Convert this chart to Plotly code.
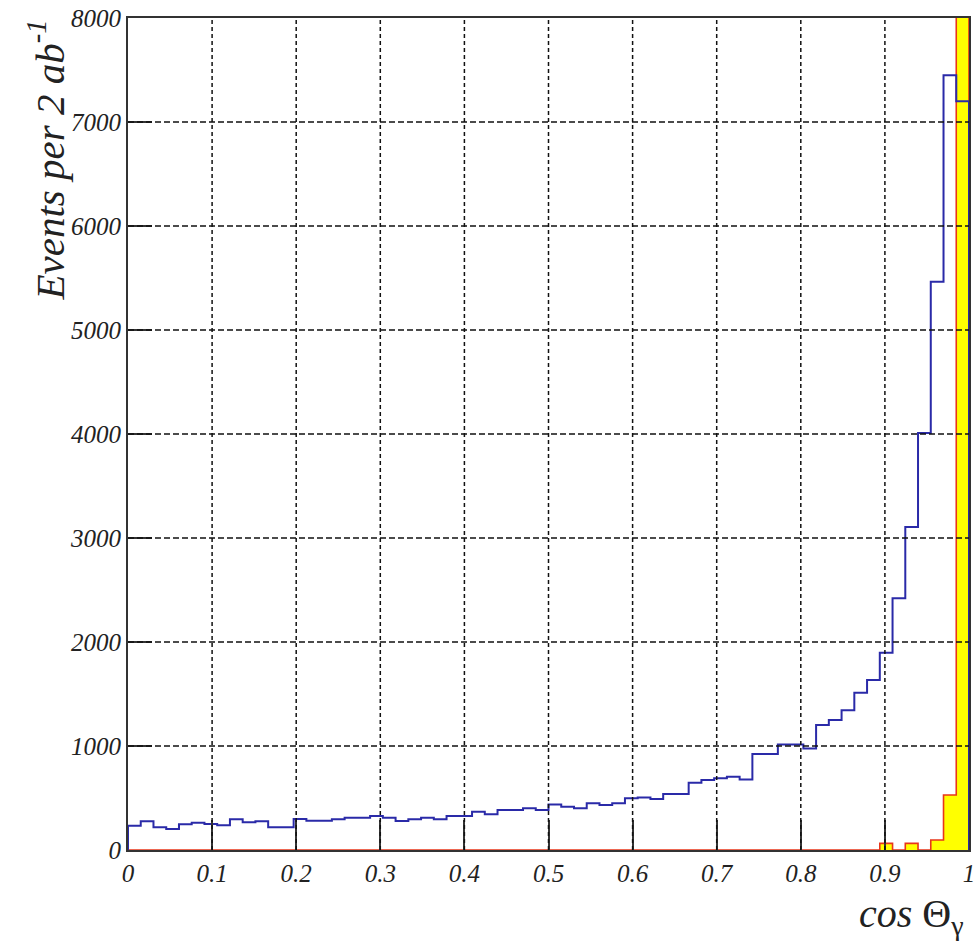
import numpy as np
import plotly.graph_objects as go

# Histogram binning: 66 equal bins over cos(theta) in [0, 1]
n_bins = 66
x_min, x_max = 0.0, 1.0

# Background (blue outline histogram), events per bin
background = [
    234, 276, 218, 202, 247, 263, 250, 237, 295, 266,
    276, 218, 218, 298, 282, 282, 296, 311, 311, 327,
    311, 279, 295, 311, 295, 327, 327, 368, 343, 385,
    385, 401, 385, 437, 417, 401, 449, 433, 449, 497,
    506, 490, 538, 538, 647, 673, 689, 705, 679, 923,
    923, 1015, 1015, 975, 1202, 1250, 1343, 1513, 1635, 1897,
    2420, 3105, 4010, 5465, 7450, 7200,
]

# Signal (yellow filled histogram), events per bin; last bin runs off scale
signal = [0] * 59 + [64, 0, 64, 0, 96, 529, 24000]

x_tick_vals = [0, 0.1, 0.2, 0.3, 0.4, 0.5, 0.6, 0.7, 0.8, 0.9, 1.0]
x_tick_text = ["0", "0.1", "0.2", "0.3", "0.4", "0.5", "0.6", "0.7", "0.8", "0.9", "1"]
y_tick_vals = [0, 1000, 2000, 3000, 4000, 5000, 6000, 7000, 8000]
y_tick_text = ["0", "1000", "2000", "3000", "4000", "5000", "6000", "7000", "8000"]

edges = np.linspace(x_min, x_max, n_bins + 1)


def step_path(values):
    """Outline of a histogram: up from the baseline, across each bin, back down."""
    xs, ys = [edges[0]], [0]
    for i, v in enumerate(values):
        xs += [edges[i], edges[i + 1]]
        ys += [v, v]
    xs.append(edges[-1])
    ys.append(0)
    return xs, ys


fig = go.Figure()

sx, sy = step_path(signal)
fig.add_trace(go.Scatter(
    x=sx, y=sy, mode="lines", fill="tozeroy",
    fillcolor="#ffff00", line=dict(color="#e8361a", width=1.6),
    hoverinfo="skip", showlegend=False,
))

bx, by = step_path(background)
fig.add_trace(go.Scatter(
    x=bx, y=by, mode="lines",
    line=dict(color="#2a2aa8", width=2),
    hoverinfo="skip", showlegend=False,
))

# Dashed grid drawn on top of the histograms
shapes = []
for xv in x_tick_vals[1:-1]:
    shapes.append(dict(type="line", xref="x", yref="y", x0=xv, x1=xv,
                       y0=y_tick_vals[0], y1=y_tick_vals[-1], layer="above",
                       line=dict(color="#111111", width=1.5, dash="4px,3px")))
for yv in y_tick_vals[1:-1]:
    shapes.append(dict(type="line", xref="x", yref="y", x0=x_min, x1=x_max,
                       y0=yv, y1=yv, layer="above",
                       line=dict(color="#111111", width=1.5, dash="6px,3px")))

tick_font = dict(family="Liberation Serif", style="italic", size=25, color="#222222")

fig.update_layout(
    width=979, height=948,
    margin=dict(l=128, r=10, t=18, b=98),
    paper_bgcolor="white", plot_bgcolor="white",
    shapes=shapes,
    xaxis=dict(
        range=[x_min, x_max], tickvals=x_tick_vals, ticktext=x_tick_text,
        showgrid=False, zeroline=False, automargin=False,
        ticks="inside", ticklen=30, tickwidth=2, tickcolor="#333333",
        showline=True, linecolor="#333333", linewidth=2, mirror=True,
        tickfont=tick_font,
    ),
    yaxis=dict(
        range=[y_tick_vals[0], y_tick_vals[-1]], tickvals=y_tick_vals, ticktext=y_tick_text,
        showgrid=False, zeroline=False, automargin=False,
        ticks="inside", ticklen=24, tickwidth=2, tickcolor="#333333",
        showline=True, linecolor="#333333", linewidth=2, mirror=True,
        tickfont=tick_font,
    ),
    annotations=[
        dict(text="Events per 2 ab<sup>-1</sup>", textangle=-90,
             xref="paper", yref="paper", x=-0.0975, y=1.0,
             xanchor="center", yanchor="top", showarrow=False,
             font=dict(family="Liberation Serif", style="italic", size=41, color="#222222")),
        dict(text="<i>cos</i> Θ<sub>γ</sub>",
             xref="paper", yref="paper", x=0.997, y=-0.112,
             xanchor="right", yanchor="bottom", showarrow=False,
             font=dict(family="Liberation Serif", size=40, color="#222222")),
    ],
)

fig.write_html("out.html")
